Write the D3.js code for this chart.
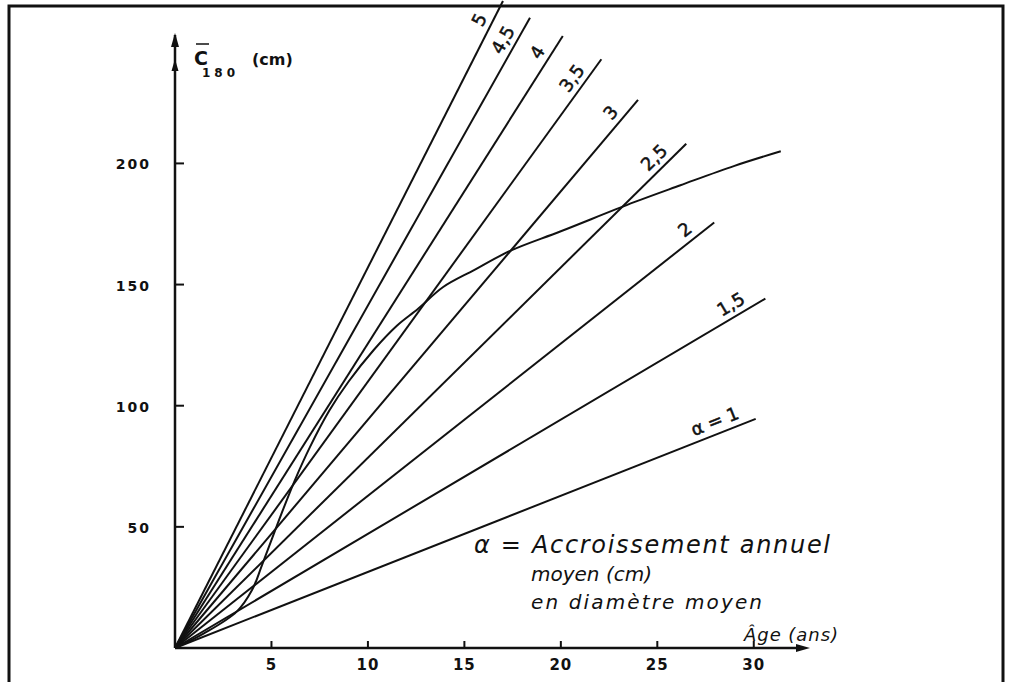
<!DOCTYPE html>
<html><head><meta charset="utf-8">
<script src="https://cdn.jsdelivr.net/npm/d3@7"></script>
<style>
body{margin:0;background:#fff;}
svg{display:block;}
text{fill:#111;}
</style></head>
<body>
<svg id="c" width="1012" height="682"></svg>
<script>
// ---- data ----
const alphas = [1, 1.5, 2, 2.5, 3, 3.5, 4, 4.5, 5];
const alphaLabels = ["α = 1", "1,5", "2", "2,5", "3", "3,5", "4", "4,5", "5"];
const lineEndAge = [30.1, 30.6, 27.95, 26.5, 24.0, 22.1, 20.1, 18.4, 17.0];
const curveAge = [0, 1.5, 3.2, 4.0, 4.5, 5.4, 6.2, 7.0, 8.0, 9.0, 10.3, 11.5, 12.6, 13.9, 15.5, 17.4, 20.0, 23.8, 26.2, 29.0, 31.4];
const curveC   = [0, 6, 15, 24, 34, 53, 69, 83, 98, 110, 123, 133, 140, 149, 156, 164, 172, 184, 191, 199, 205];
const xTicks = [5, 10, 15, 20, 25, 30];
const yTicks = [50, 100, 150, 200];

const svg = d3.select("#c");
const ink = "#111";
// frame
svg.append("rect").attr("x", 9).attr("y", 6).attr("width", 994).attr("height", 700)
  .attr("fill", "none").attr("stroke", ink).attr("stroke-width", 3);

const x = d3.scaleLinear().domain([0, 32.5]).range([175, 802]);
const y = d3.scaleLinear().domain([0, 253]).range([648, 35]);

// axes lines
svg.append("line").attr("x1", x(0)).attr("x2", x(32.5)).attr("y1", y(0)).attr("y2", y(0))
  .attr("stroke", ink).attr("stroke-width", 2.5);
svg.append("line").attr("x1", x(0)).attr("x2", x(0)).attr("y1", y(0)).attr("y2", y(253))
  .attr("stroke", ink).attr("stroke-width", 2.5);
// arrowheads
svg.append("path").attr("d", `M${x(32.5)+8},${y(0)} L${x(32.5)-6},${y(0)-4} L${x(32.5)-6},${y(0)+4}Z`).attr("fill", ink);
svg.append("path").attr("d", `M${x(0)},${y(253)-2} L${x(0)-4},${y(253)+12} L${x(0)+4},${y(253)+12}Z`).attr("fill", ink);
svg.append("path").attr("d", `M${x(0)},${y(253)+24} L${x(0)-3.5},${y(253)+36} L${x(0)+3.5},${y(253)+36}Z`).attr("fill", ink);

// x ticks
const gx = svg.append("g");
gx.selectAll("line").data(xTicks).join("line")
  .attr("x1", d => x(d)).attr("x2", d => x(d)).attr("y1", y(0)).attr("y2", y(0) - 7)
  .attr("stroke", ink).attr("stroke-width", 2);
gx.selectAll("text").data(xTicks).join("text")
  .attr("x", d => x(d)).attr("y", y(0) + 22).attr("text-anchor", "middle")
  .attr("font-family", "DejaVu Sans").attr("font-weight", "bold").attr("font-size", 15)
  .attr("letter-spacing", 1).text(d => d);
// y ticks
const gy = svg.append("g");
gy.selectAll("line").data(yTicks).join("line")
  .attr("x1", x(0)).attr("x2", x(0) + 9).attr("y1", d => y(d)).attr("y2", d => y(d))
  .attr("stroke", ink).attr("stroke-width", 2);
gy.selectAll("text").data(yTicks).join("text")
  .attr("x", x(0) - 24).attr("y", d => y(d) + 6).attr("text-anchor", "end")
  .attr("font-family", "DejaVu Sans").attr("font-weight", "bold").attr("font-size", 14)
  .attr("letter-spacing", 2).text(d => d);

// axis titles
svg.append("text").attr("x", 194).attr("y", 65).attr("font-family", "DejaVu Sans").attr("font-weight", "bold")
  .attr("font-size", 19).text("C");
svg.append("line").attr("x1", 196).attr("x2", 209).attr("y1", 44).attr("y2", 44).attr("stroke", ink).attr("stroke-width", 1.5);
svg.append("text").attr("x", 202).attr("y", 77).attr("font-family", "DejaVu Sans").attr("font-weight", "bold")
  .attr("font-size", 12).attr("letter-spacing", 4).text("180");
svg.append("text").attr("x", 252).attr("y", 65).attr("font-family", "DejaVu Sans").attr("font-weight", "bold")
  .attr("font-size", 16).text("(cm)");
svg.append("text").attr("x", 744).attr("y", 641).attr("font-family", "DejaVu Sans").attr("font-style", "italic")
  .attr("font-size", 18).attr("textLength", 94).attr("lengthAdjust", "spacing").text("Âge (ans)");

// alpha lines
const lineGen = d3.line().x(d => x(d[0])).y(d => y(d[1]));
const g = svg.append("g");
alphas.forEach((a, i) => {
  const pts = [[0, 0], [lineEndAge[i], Math.PI * a * lineEndAge[i]]];
  g.append("path").attr("d", lineGen(pts)).attr("fill", "none").attr("stroke", ink).attr("stroke-width", 2);
  const ex = x(pts[1][0]), ey = y(pts[1][1]);
  const ang = Math.atan2(ey - y(0), ex - x(0)); // negative
  const ux = Math.cos(ang), uy = Math.sin(ang);
  const t = g.append("text").attr("font-family", "DejaVu Sans").attr("font-size", 18)
    .attr("stroke", ink).attr("stroke-width", 0.5)
    .attr("text-anchor", "middle").attr("dominant-baseline", "central").text(alphaLabels[i]);
  const w = t.node().getComputedTextLength();
  const d = 24 + w * 0.3, p = 13;
  const px = ex - d * ux + p * uy, py = ey - d * uy - p * ux;
  t.attr("transform", `translate(${px},${py}) rotate(${ang * 180 / Math.PI})`);
});

// curve
const cpts = curveAge.map((a, i) => [a, curveC[i]]);
svg.append("path").attr("d", d3.line().x(d => x(d[0])).y(d => y(d[1])).curve(d3.curveCatmullRom)(cpts))
  .attr("fill", "none").attr("stroke", ink).attr("stroke-width", 2);

// annotation
const ann = svg.append("g").attr("font-family", "DejaVu Sans").attr("font-style", "italic");
ann.append("text").attr("x", 474).attr("y", 553).attr("font-size", 24)
  .attr("textLength", 356).attr("lengthAdjust", "spacing").text("α = Accroissement annuel");
ann.append("text").attr("x", 531).attr("y", 581).attr("font-size", 20).text("moyen (cm)");
ann.append("text").attr("x", 531).attr("y", 609).attr("font-size", 20)
  .attr("textLength", 231).attr("lengthAdjust", "spacing").text("en diamètre moyen");
</script>
</body></html>
